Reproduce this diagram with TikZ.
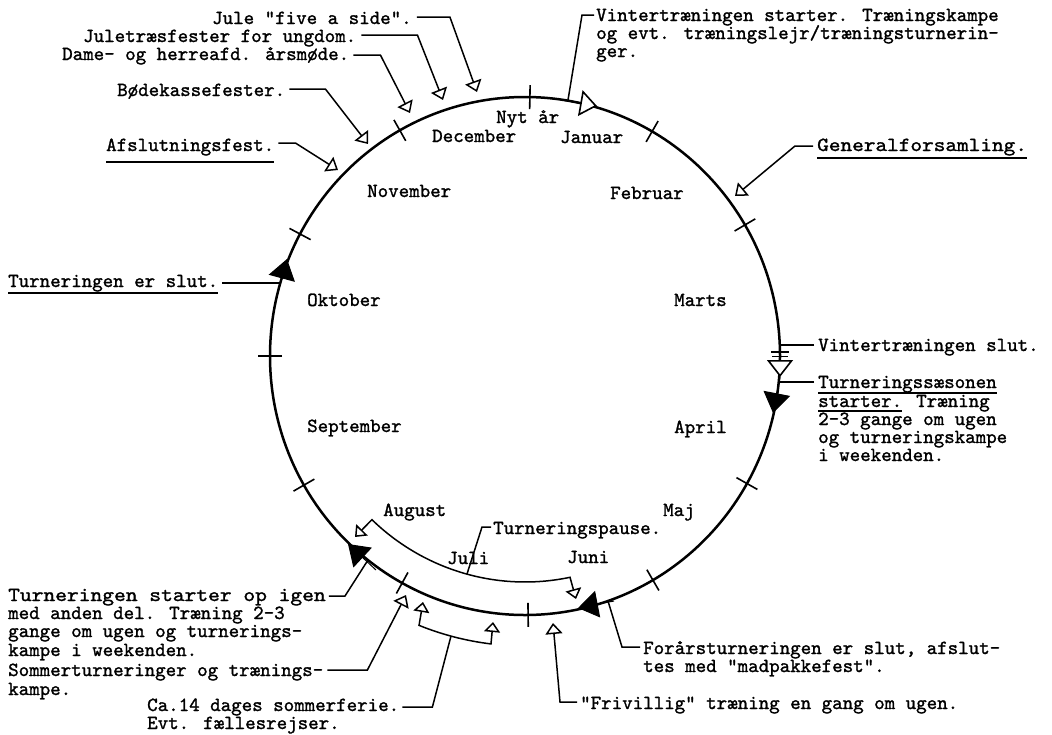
\documentclass[tikz,border=0pt]{standalone}
\usepackage{fontspec}
\newfontfamily\twfont{lmmono10-regular.otf}[FakeBold=1.3]
\usetikzlibrary{arrows.meta}
\begin{document}
\begin{tikzpicture}[x=1pt,y=-1pt,
  lbl/.style={anchor=base west, inner sep=0pt, font=\twfont\fontsize{20}{20}\selectfont},
  circ/.style={line width=2.5pt},
  tick/.style={line width=1.6pt},
  lead/.style={line width=1.5pt},
  ul/.style={line width=1.6pt},
  sarr/.style={lead, -{Triangle[fill=white,length=11pt,width=17pt]}},
  barr/.style={line width=1.6pt, -{Triangle[fill=white,length=17pt,width=26pt]}},
  farr/.style={line width=1pt, -{Triangle[length=20pt,width=27pt]}},
  brk/.style={line width=1.5pt, {Triangle[fill=white,length=10pt,width=16pt]}-{Triangle[fill=white,length=10pt,width=16pt]}}]
\useasboundingbox (0,0) rectangle (1052,734);
\fill[white] (0,0) rectangle (1052,734);
\coordinate (c) at (525,356);
\draw[circ] (c) ellipse [x radius=255, y radius=259];
% month ticks
\foreach \a in {-88.9,-60.1,-30.4,29.5,59.9,89.3,118.8,150.1,180,-151.9,-119.4}
  \draw[tick] ([shift={(\a:243 and 247)}]c) -- ([shift={(\a:267 and 271)}]c);
\draw[tick] (771,352) -- (789,352);
\draw[tick] (772,356.5) -- (788,356.5);
% month names
\node[lbl] (m0) at (496,123) {Nyt år};
\node[lbl] (m12) at (432,142) {December};
\node[lbl] (m1) at (560,143) {Januar};
\node[lbl] (m11) at (367,197) {November};
\node[lbl] (m2) at (610,199) {Februar};
\node[lbl] (m10) at (307,306) {Oktober};
\node[lbl] (m3) at (674,306) {Marts};
\node[lbl] (m9) at (307,432) {September};
\node[lbl] (m4) at (674,433) {April};
\node[lbl] (m8) at (383,516) {August};
\node[lbl] (m5) at (663,516) {Maj};
\node[lbl] (m7) at (447,564) {Juli};
\node[lbl] (m6) at (567,563) {Juni};
% open triangles on the circle
\coordinate (vsb) at (563,100); \coordinate (vst) at (597,106);
\draw[barr] (vsb) -- (vst);
\coordinate (vtb) at (780,343); \coordinate (vtt) at (780,377);
\draw[barr] (vtb) -- (vtt);
% filled triangles on the circle
\coordinate (k1b) at (277,296); \coordinate (k1) at (287,259);
\draw[farr] (k1b) -- (k1);
\coordinate (k2b) at (780,377); \coordinate (k2) at (773,413);
\draw[farr] (k2b) -- (k2);
\coordinate (k3b) at (614,601); \coordinate (k3) at (578,608);
\draw[farr] (k3b) -- (k3);
\coordinate (k4b) at (376,570); \coordinate (k4) at (348,544);
\draw[farr] (k4b) -- (k4);
% top-left labels
\node[lbl] (j1) at (212,24) {Jule "five a side".};
\node[lbl] (j2) at (83,42) {Juletræsfester for ungdom.};
\node[lbl] (j3) at (62,60) {Dame- og herreafd. årsmøde.};
\node[lbl] (j4) at (117,96) {Bødekassefester.};
\node[lbl] (j5) at (106,151) {Afslutningsfest.};
\coordinate (j1t) at (477,92);
\coordinate (j2t) at (443,100);
\coordinate (j3t) at (410,113);
\coordinate (j4t) at (368,144);
\coordinate (j5t) at (338,170);
\draw[sarr] ([shift={(5,-7)}]j1.base east) -- ++(33,0) -- (j1t);
\draw[sarr] ([shift={(5,-7)}]j2.base east) -- ++(56,0) -- (j2t);
\draw[sarr] ([shift={(4,-5)}]j3.base east) -- ++(27,0) -- (j3t);
\draw[sarr] ([shift={(4,-7)}]j4.base east) -- ++(36,0) -- (j4t);
\draw[sarr] ([shift={(4,-8)}]j5.base east) -- ++(17,0) -- (j5t);
\draw[ul] ([yshift=-11pt]j5.base west) -- ([yshift=-11pt]j5.base east);
% top-right
\node[lbl] (v1) at (596,21) {Vintertræningen starter. Træningskampe};
\node[lbl] (v2) at (596,39) {og evt. træningslejr/træningsturnerin-};
\node[lbl] (v3) at (596,57) {ger.};
\coordinate (v1e) at (568,100);
\draw[lead] ([shift={(-2,-6)}]v1.base west) -- ++(-12,0) -- (v1e);
\node[lbl] (g1) at (817,151) {\scalebox{1.11}[1]{Generalforsamling.}};
\coordinate (g1t) at (735,196);
\draw[sarr] ([shift={(-4,-5)}]g1.base west) -- ++(-18,0) -- (g1t);
\draw[ul] ([yshift=-7pt]g1.base west) -- ([yshift=-7pt]g1.base east);
% right middle
\node[lbl] (w1) at (818,351) {Vintertræningen slut.};
\coordinate (w1e) at (780,345);
\draw[lead] ([shift={(-4,-6)}]w1.base west) -- (w1e);
\node[lbl] (s1) at (818,388) {Turneringssæsonen};
\node[lbl] (s2) at (818,407) {starter. Træning};
\node[lbl] (s3) at (818,425) {2-3 gange om ugen};
\node[lbl] (s4) at (818,443) {og turneringskampe};
\node[lbl] (s5) at (818,461) {i weekenden.};
\coordinate (s1e) at (778,382);
\draw[lead] ([shift={(-4,-6)}]s1.base west) -- (s1e);
\draw[ul] ([yshift=-5pt]s1.base west) -- ([yshift=-5pt]s1.base east);
\draw[ul] ([yshift=-4pt]s2.base west) -- ++(84,0);
% bottom right
\node[lbl] (f1) at (643,654) {Forårsturneringen er slut, afslut-};
\node[lbl] (f2) at (643,672) {tes med "madpakkefest".};
\coordinate (f1e) at (608,601);
\draw[lead] ([shift={(-3,-7)}]f1.base west) -- ++(-18,0) -- (f1e);
\node[lbl] (fr) at (580,709) {"Frivillig" træning en gang om ugen.};
\coordinate (frt) at (553,623);
\draw[sarr] ([shift={(-3,-7)}]fr.base west) -- ++(-17,0) -- (frt);
% Turneringspause bracket
\coordinate (tpL) at (355,537);
\coordinate (tpR) at (576,599);
\draw[brk] (tpL) -- ([shift={(133.6:222 and 226)}]c) arc[start angle=133.6, end angle=78.3, x radius=222, y radius=226] -- (tpR);
\node[lbl] (tp) at (493,534) {Turneringspause.};
\coordinate (tpe) at (467,574);
\draw[lead] ([shift={(-2,-7)}]tp.base west) -- ++(-9,0) -- (tpe);
% sommerferie bracket
\coordinate (sfL) at (423,602);
\coordinate (sfR) at (493,622);
\draw[brk] (sfL) -- ([shift={(111.75:286 and 290)}]c) arc[start angle=111.75, end angle=96.83, x radius=286, y radius=290] -- (sfR);
% left labels
\node[lbl] (te) at (8,287) {Turneringen er slut.};
\coordinate (tee) at (280,283);
\draw[lead] ([shift={(4,-4)}]te.base east) -- (tee);
\draw[ul] ([yshift=-6pt]te.base west) -- ([yshift=-6pt]te.base east);
\node[lbl] (a1) at (8,601) {\scalebox{1.12}[1]{Turneringen starter op igen}};
\node[lbl] (a2) at (8,619) {med anden del. Træning 2-3};
\node[lbl] (a3) at (8,637) {gange om ugen og turnerings-};
\node[lbl] (a4) at (8,656) {kampe i weekenden.};
\coordinate (a1b) at (345,596);
\coordinate (a1e) at (368,560);
\draw[lead] ([shift={(3,-5)}]a1.base east) -- (a1b) -- (a1e);
\node[lbl] (b1) at (8,676) {Sommerturneringer og trænings-};
\node[lbl] (b2) at (8,695) {kampe.};
\coordinate (b1t) at (406,595);
\draw[sarr] ([shift={(4,-6)}]b1.base east) -- ++(40,0) -- (b1t);
\node[lbl] (d1) at (147,711) {Ca.14 dages sommerferie.};
\node[lbl] (d2) at (147,729) {Evt. fællesrejser.};
\coordinate (d1e) at (451,636);
\draw[lead] ([shift={(3,-4)}]d1.base east) -- ++(30,0) -- (d1e);
\end{tikzpicture}
\end{document}
